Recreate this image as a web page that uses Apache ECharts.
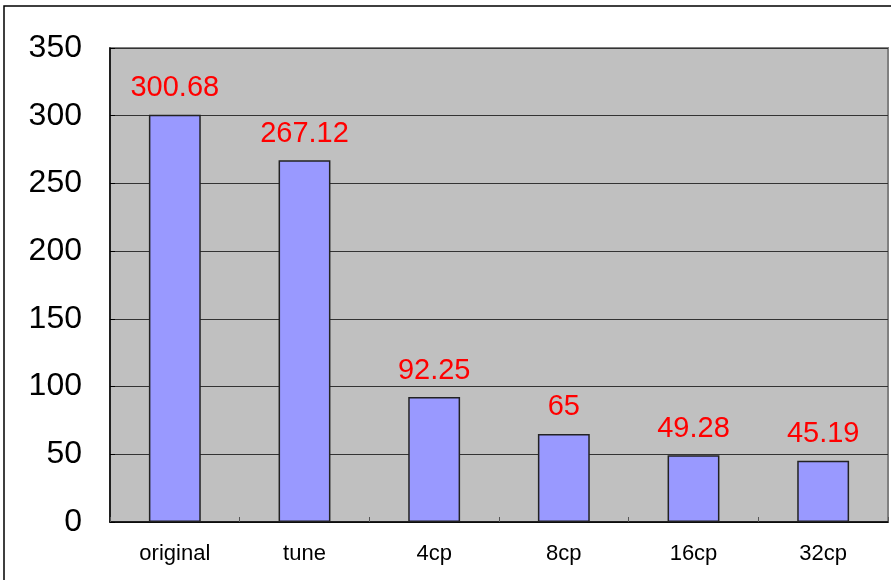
<!DOCTYPE html>
<html>
<head>
<meta charset="utf-8">
<script src="https://cdn.jsdelivr.net/npm/echarts@6/dist/echarts.min.js"></script>
<style>
  html, body { margin: 0; padding: 0; background: #fff; }
  #chart { width: 891px; height: 580px; }
</style>
</head>
<body>
<div id="chart"></div>
<script>
// Categories and measured values
const categories = ['original', 'tune', '4cp', '8cp', '16cp', '32cp'];
const values = [300.68, 267.12, 92.25, 65, 49.28, 45.19];
const yTicks = { min: 0, max: 350, interval: 50 };

const chart = echarts.init(document.getElementById('chart'), null, { renderer: 'canvas' });

chart.setOption({
  animation: false,
  backgroundColor: '#ffffff',
  textStyle: { fontFamily: 'Liberation Sans, Arial, sans-serif' },
  graphic: [{
    type: 'rect',
    shape: { x: 4, y: 6, width: 1000, height: 1000 },
    style: { fill: 'none', stroke: '#000', lineWidth: 1.5 },
    silent: true,
    z: 100
  }],
  grid: {
    left: 110, right: 3, top: 48, bottom: 58,
    show: true,
    backgroundColor: '#C0C0C0',
    borderColor: '#808080',
    borderWidth: 2
  },
  xAxis: {
    type: 'category',
    data: categories,
    axisLine: { show: true, lineStyle: { color: '#000', width: 1.5 } },
    axisTick: { show: true, inside: true, length: 5, alignWithLabel: false, lineStyle: { color: '#555' } },
    axisLabel: { color: '#000', fontSize: 22, margin: 21, fontFamily: 'Liberation Sans, Arial, sans-serif' },
    splitLine: { show: false }
  },
  yAxis: {
    type: 'value',
    min: yTicks.min, max: yTicks.max, interval: yTicks.interval,
    axisLine: { show: true, lineStyle: { color: '#000', width: 1.5 } },
    axisTick: { show: true, inside: true, length: 5, lineStyle: { color: '#000' } },
    axisLabel: { color: '#000', fontSize: 32, margin: 28, fontFamily: 'Liberation Sans, Arial, sans-serif' },
    splitLine: { show: true, lineStyle: { color: '#333', width: 1 } }
  },
  series: [{
    type: 'bar',
    data: values,
    barWidth: '40%',
    itemStyle: { color: '#9999FF', borderColor: '#222', borderWidth: 1.5 },
    label: {
      show: true,
      position: 'top',
      distance: 12,
      color: '#FF0000',
      fontSize: 29,
      fontFamily: 'Liberation Sans, Arial, sans-serif',
      formatter: p => String(p.value)
    }
  }]
});
</script>
</body>
</html>
